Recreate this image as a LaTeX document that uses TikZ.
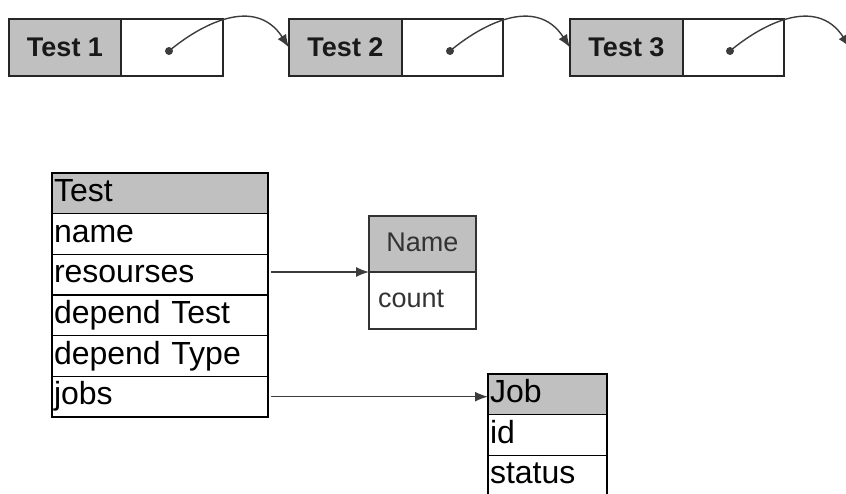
\documentclass[tikz,border=0pt]{standalone}
\usepackage{fontspec}
\setmainfont{Liberation Sans}
\usetikzlibrary{arrows.meta,calc}
\definecolor{hdr}{HTML}{C0C0C0}
\definecolor{arrc}{HTML}{3C3C3C}
\definecolor{txtc}{HTML}{333333}
\begin{document}
\begin{tikzpicture}[x=1pt,y=-1pt,
  lbox/.style={draw=black!85, line width=1.5pt, rectangle, inner sep=0pt, outer sep=0pt, minimum height=57pt,
    font=\fontsize{27}{30}\selectfont\bfseries, text=black!90},
  gbox/.style={lbox, fill=hdr},
  dotn/.style={circle, fill=arrc, inner sep=0pt, minimum size=8pt},
  arr/.style={draw=arrc, line width=1.4pt, -{Latex[length=13pt,width=10pt]}},
  trow/.style={draw=black, line width=1.5pt, rectangle, anchor=north west,
    minimum height=40.67pt, inner xsep=2pt, inner ysep=0pt, outer sep=0pt, align=left,
    text height=22pt, text depth=6pt,
    font=\fontsize{32}{34}\selectfont, text=black},
  nrow/.style={draw=black!80, line width=1.5pt, rectangle, anchor=north west,
    inner ysep=0pt, outer sep=0pt, text height=19pt, text depth=5pt,
    font=\fontsize{27}{30}\selectfont, text=txtc}
]
\useasboundingbox (0,0) rectangle (846,493);
\clip (0,0) rectangle (846,493);

% top linked list
\node[gbox, minimum width=112pt] (t1) at (65,47.5) {Test 1};
\node[lbox, minimum width=102pt] (p1) at (172,47.5) {};
\node[gbox, minimum width=113pt] (t2) at (345.5,47.5) {Test 2};
\node[lbox, minimum width=101pt] (p2) at (452.5,47.5) {};
\node[gbox, minimum width=113pt] (t3) at (626.5,47.5) {Test 3};
\node[lbox, minimum width=101pt] (p3) at (733.5,47.5) {};
\coordinate (e3) at (850,47.5);

\node[dotn] (d1) at (169,51) {};
\node[dotn] (d2) at (450,51) {};
\node[dotn] (d3) at (730,51) {};

\draw[arr] (d1.center) .. controls ($(d1)+(31,-26)$) and ($(d1)+(86,-56)$) .. (t2.west);
\draw[arr] (d2.center) .. controls ($(d2)+(31,-26)$) and ($(d2)+(86,-56)$) .. (t3.west);
\draw[arr] (d3.center) .. controls ($(d3)+(31,-26)$) and ($(d3)+(86,-56)$) .. (e3);

% Test table
\node[trow, text width=212pt, fill=hdr] (th) at (52,173) {Test};
\node[trow, text width=212pt] (tn) at (th.south west) {name};
\node[trow, text width=212pt] (tr) at (tn.south west) {resourses};
\node[trow, text width=212pt] (tdt) at (tr.south west) {depend Test};
\node[trow, text width=212pt] (tdy) at (tdt.south west) {depend Type};
\node[trow, text width=212pt] (tj) at (tdy.south west) {jobs};

% Name table
\node[nrow, fill=hdr, minimum width=107pt, minimum height=56pt, inner xsep=0pt] (nh) at (369,216) {Name};
\node[nrow, minimum height=57pt, text width=89pt, inner xsep=9pt, align=left] (nc) at (nh.south west) {count};

% Job table
\node[trow, text width=115pt, fill=hdr] (jh) at (488,374) {Job};
\node[trow, text width=115pt] (ji) at (jh.south west) {id};
\node[trow, text width=115pt] (js) at (ji.south west) {status};

% connectors
\draw[arr] ($(tr.east |- nh.south)+(3,0)$) -- (nh.south west);
\draw[arr] ($(tj.east)+(3,0)$) -- (tj.east -| jh.west);
\end{tikzpicture}
\end{document}
